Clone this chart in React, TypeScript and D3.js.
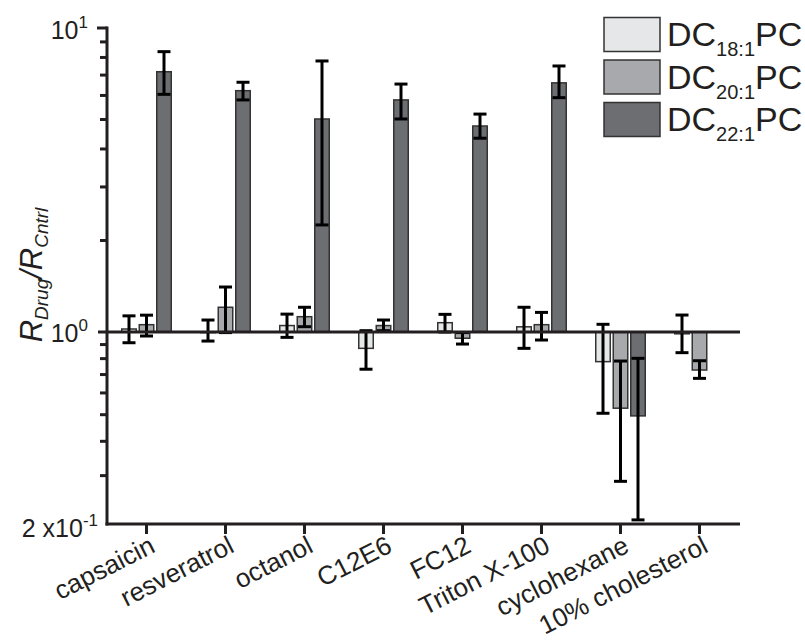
import React from "react";
import * as d3 from "d3";

// categories and values (ratio R_drug / R_cntrl)
const categories = [
  "capsaicin",
  "resveratrol",
  "octanol",
  "C12E6",
  "FC12",
  "Triton X-100",
  "cyclohexane",
  "10% cholesterol",
];
const seriesNames = ["18:1", "20:1", "22:1"];

const dc18 = [1.023, 0.995, 1.05, 0.872, 1.073, 1.04, 0.78, 0.985];
const dc18Lo = [0.914, 0.927, 0.956, 0.732, 1.0, 0.872, 0.506, 0.841];
const dc18Hi = [1.13, 1.095, 1.145, 1.01, 1.143, 1.206, 1.06, 1.137];

const dc20 = [1.057, 1.206, 1.123, 1.05, 0.949, 1.057, 0.528, 0.727];
const dc20Lo = [0.967, 0.995, 1.041, 1.01, 0.904, 0.935, 0.286, 0.678];
const dc20Hi = [1.136, 1.406, 1.206, 1.095, 0.995, 1.16, 0.784, 0.786];

const dc22 = [7.18, 6.22, 5.02, 5.8, 4.76, 6.6, 0.495, null];
const dc22Lo = [6.05, 5.8, 2.25, 5.02, 4.34, 5.9, 0.207, null];
const dc22Hi = [8.36, 6.63, 7.79, 6.54, 5.21, 7.5, 0.802, null];

const minorTicks = [0.3, 0.4, 0.5, 0.6, 0.7, 0.8, 0.9, 2, 3, 4, 5, 6, 7, 8, 9];

const fills = ["#e6e7e8", "#a7a9ac", "#6d6e71"];
const font = "'Liberation Sans', Arial, Helvetica, sans-serif";

const App = () => {
  const width = 805;
  const height = 643;

  const x = d3.scaleBand().domain(categories).range([107, 739]).paddingInner(0);
  const y = d3.scaleLog().domain([0.2, 1, 10]).range([524, 332, 28]);
  const slot = d3.scalePoint().domain(seriesNames).range([-17.5, 17.5]);
  const barW = 14.5;

  const series = [
    { name: seriesNames[0], v: dc18, lo: dc18Lo, hi: dc18Hi },
    { name: seriesNames[1], v: dc20, lo: dc20Lo, hi: dc20Hi },
    { name: seriesNames[2], v: dc22, lo: dc22Lo, hi: dc22Hi },
  ];

  const base = y(1);

  return (
    <svg width={width} height={height} style={{ position: "absolute", left: 0, top: 0 }} fontFamily={font}>
      {/* bars */}
      {series.map((s, si) =>
        categories.map((c, ci) => {
          const v = s.v[ci];
          if (v == null) return null;
          const cx = x(c)! + x.bandwidth() / 2 + slot(s.name)!;
          const yv = y(v);
          return (
            <rect
              key={`b${si}-${ci}`}
              x={cx - barW / 2}
              y={Math.min(yv, base)}
              width={barW}
              height={Math.abs(yv - base)}
              fill={fills[si]}
              stroke="#333"
              strokeWidth={1.5}
            />
          );
        })
      )}
      {/* error bars */}
      {series.map((s, si) =>
        categories.map((c, ci) => {
          const lo = s.lo[ci];
          const hi = s.hi[ci];
          if (lo == null || hi == null) return null;
          const cx = x(c)! + x.bandwidth() / 2 + slot(s.name)!;
          return (
            <g key={`e${si}-${ci}`} stroke="#000" strokeWidth={3}>
              <line x1={cx} x2={cx} y1={y(lo)} y2={y(hi)} />
              <line x1={cx - 6.5} x2={cx + 6.5} y1={y(lo)} y2={y(lo)} />
              <line x1={cx - 6.5} x2={cx + 6.5} y1={y(hi)} y2={y(hi)} />
            </g>
          );
        })
      )}

      {/* baseline at 1 */}
      <line x1={98} x2={740} y1={base} y2={base} stroke="#231f20" strokeWidth={3} />

      {/* y axis */}
      <line x1={107} x2={107} y1={y(10) - 1.5} y2={y(0.2) + 1.5} stroke="#231f20" strokeWidth={3} />
      <line x1={97} x2={107} y1={y(10)} y2={y(10)} stroke="#231f20" strokeWidth={3} />
      {minorTicks.map((t) => (
        <line key={t} x1={100} x2={107} y1={y(t)} y2={y(t)} stroke="#231f20" strokeWidth={3} />
      ))}
      <text x={88} y={y(10) + 11} textAnchor="end" fontSize={25} fill="#231f20">
        10<tspan fontSize={17} dy={-11}>1</tspan>
      </text>
      <text x={88} y={base + 10} textAnchor="end" fontSize={25} fill="#231f20">
        10<tspan fontSize={17} dy={-11}>0</tspan>
      </text>
      <text x={98} y={y(0.2) + 13} textAnchor="end" fontSize={25} fill="#231f20">
        2 x10<tspan fontSize={17} dy={-11}>-1</tspan>
      </text>

      {/* x axis */}
      <line x1={105.5} x2={740} y1={y(0.2)} y2={y(0.2)} stroke="#231f20" strokeWidth={3} />
      {categories.map((c) => {
        const cx = x(c)! + x.bandwidth() / 2;
        return (
          <g key={c}>
            <line x1={cx} x2={cx} y1={y(0.2)} y2={y(0.2) + 10} stroke="#231f20" strokeWidth={3} />
            <text
              transform={`translate(${cx + 7},${y(0.2) + 21}) rotate(-27)`}
              textAnchor="end"
              dominantBaseline="middle"
              fontSize={26}
              fill="#231f20"
            >
              {c}
            </text>
          </g>
        );
      })}

      {/* y label */}
      <text
        transform={`translate(42,275) rotate(-90)`}
        textAnchor="middle"
        fontSize={31}
        fontStyle="italic"
        fill="#231f20"
      >
        R<tspan fontSize={19} dy={6}>Drug</tspan>
        <tspan dy={-6}>/R</tspan>
        <tspan fontSize={19} dy={6}>Cntrl</tspan>
      </text>

      {/* legend */}
      {series.map((s, si) => (
        <g key={`l${si}`} transform={`translate(0,${si * 42.5})`}>
          <rect x={604} y={17.5} width={56} height={34} fill={fills[si]} stroke="#333" strokeWidth={1.5} />
          <text x={667} y={46} fontSize={34} fill="#231f20">
            DC<tspan fontSize={20} dy={10}>{s.name}</tspan>
            <tspan dy={-10}>PC</tspan>
          </text>
        </g>
      ))}
    </svg>
  );
};

export default App;
